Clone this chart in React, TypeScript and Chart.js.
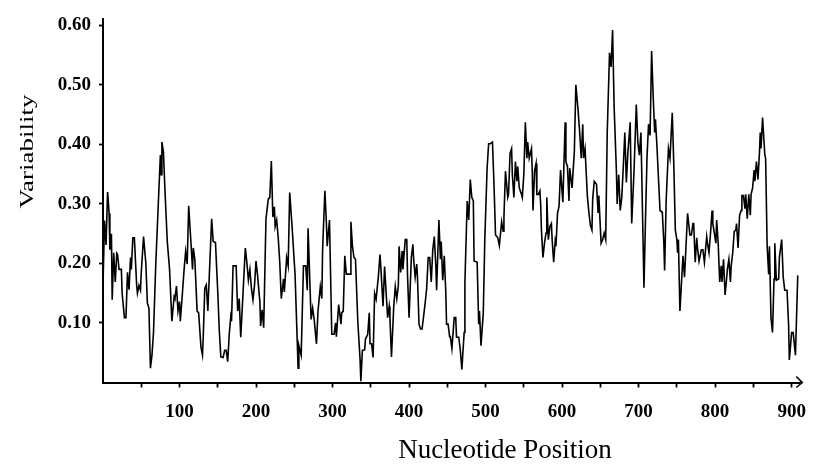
import React, { useEffect, useRef } from 'react';
import { Chart, registerables } from 'chart.js';

Chart.register(...registerables);

// Nucleotide positions (x) and variability values (y)
const positions = [
  0, 2, 4, 6, 8, 9, 11, 12, 14, 16, 18, 19, 21, 24, 25, 28, 30, 32, 34, 36, 37, 39, 41, 44, 45, 47, 49, 50, 53, 56,
  58, 60, 62, 64, 66, 69, 73, 75, 76, 77, 79, 81, 84, 87, 90, 93, 94, 96, 98, 100, 101, 103, 106, 108, 110, 112, 115, 117, 118, 120,
  123, 125, 128, 130, 131, 133, 135, 137, 139, 142, 144, 147, 150, 152, 154, 157, 159, 161, 163, 165, 167, 168, 170, 174, 176, 178, 180, 182, 186, 188,
  190, 192, 194, 196, 198, 200, 202, 205, 206, 208, 210, 213, 216, 218, 220, 222, 224, 225, 227, 229, 231, 233, 236, 237, 240, 242, 244, 247, 250, 251,
  255, 256, 259, 262, 265, 267, 268, 272, 274, 276, 279, 281, 284, 286, 287, 290, 292, 293, 296, 299, 302, 304, 305, 308, 311, 312, 314, 316, 318, 323,
  324, 326, 328, 330, 333, 336, 337, 339, 342, 343, 346, 348, 349, 351, 353, 355, 357, 360, 362, 363, 366, 368, 370, 372, 374, 375, 377, 380, 382, 384,
  386, 387, 389, 391, 392, 395, 397, 398, 400, 403, 405, 406, 408, 410, 411, 413, 415, 417, 419, 421, 423, 425, 427, 429, 431, 433, 435, 436, 439, 441,
  442, 444, 446, 448, 449, 451, 453, 454, 456, 459, 461, 462, 465, 467, 469, 472, 473, 476, 478, 480, 482, 484, 485, 489, 491, 492, 494, 497, 499, 502,
  504, 506, 509, 511, 513, 516, 518, 521, 523, 524, 526, 529, 530, 532, 534, 535, 537, 539, 541, 542, 544, 547, 548, 550, 552, 554, 555, 557, 560, 561,
  562, 564, 566, 567, 569, 571, 572, 573, 575, 577, 579, 580, 582, 584, 586, 587, 589, 591, 592, 594, 596, 598, 601, 604, 605, 607, 609, 610, 613, 616,
  618, 621, 623, 625, 627, 628, 630, 633, 635, 637, 639, 640, 642, 645, 647, 648, 651, 653, 655, 657, 659, 662, 664, 666, 668, 671, 672, 674, 676, 678,
  680, 682, 684, 686, 689, 691, 694, 697, 699, 701, 703, 704, 707, 709, 711, 713, 715, 717, 719, 721, 722, 724, 728, 731, 733, 734, 736, 739, 741, 744,
  746, 748, 750, 751, 752, 754, 758, 760, 764, 765, 767, 769, 771, 772, 774, 776, 777, 779, 782, 784, 786, 789, 790, 792, 794, 796, 797, 799, 801, 802,
  804, 806, 808, 809, 811, 813, 815, 816, 818, 820, 821, 823, 825, 827, 828, 830, 832, 834, 835, 837, 839, 840, 842, 844, 846, 847, 849, 851, 852, 854,
  856, 858, 859, 860, 862, 865, 866, 868, 870, 871, 873, 875, 877, 878, 880, 883, 884, 887, 889, 891, 894, 896, 897, 900, 902, 905, 908,
];

const variability = [
  0.164, 0.272, 0.231, 0.32, 0.284, 0.223, 0.25, 0.139, 0.218, 0.169, 0.217, 0.215, 0.19, 0.19, 0.15, 0.109, 0.109, 0.185, 0.156, 0.21, 0.19, 0.243, 0.243, 0.163, 0.15, 0.163, 0.155, 0.185, 0.245, 0.2,
  0.133, 0.125, 0.024, 0.046, 0.084, 0.2, 0.322, 0.382, 0.349, 0.404, 0.387, 0.322, 0.237, 0.19, 0.103, 0.144, 0.141, 0.162, 0.12, 0.136, 0.103, 0.136, 0.19, 0.22, 0.199, 0.297, 0.234, 0.19, 0.226, 0.207,
  0.12, 0.117, 0.06, 0.046, 0.076, 0.158, 0.164, 0.12, 0.182, 0.275, 0.237, 0.235, 0.152, 0.087, 0.043, 0.042, 0.054, 0.054, 0.035, 0.081, 0.111, 0.103, 0.196, 0.196, 0.12, 0.141, 0.076, 0.125, 0.226, 0.202,
  0.172, 0.19, 0.158, 0.139, 0.163, 0.204, 0.18, 0.136, 0.095, 0.122, 0.092, 0.275, 0.308, 0.311, 0.372, 0.278, 0.295, 0.262, 0.273, 0.243, 0.202, 0.141, 0.174, 0.152, 0.21, 0.196, 0.319, 0.264, 0.202, 0.182,
  0.024, 0.062, 0.046, 0.196, 0.196, 0.155, 0.259, 0.106, 0.125, 0.106, 0.065, 0.12, 0.161, 0.141, 0.223, 0.322, 0.267, 0.229, 0.273, 0.081, 0.081, 0.1, 0.077, 0.131, 0.098, 0.117, 0.12, 0.213, 0.182, 0.182,
  0.27, 0.229, 0.21, 0.207, 0.103, 0.038, 0.002, 0.054, 0.055, 0.073, 0.081, 0.117, 0.065, 0.065, 0.042, 0.15, 0.14, 0.18, 0.215, 0.196, 0.128, 0.195, 0.152, 0.109, 0.128, 0.109, 0.043, 0.128, 0.161, 0.141,
  0.163, 0.229, 0.185, 0.221, 0.19, 0.24, 0.24, 0.18, 0.109, 0.21, 0.232, 0.207, 0.177, 0.199, 0.177, 0.098, 0.09, 0.09, 0.111, 0.133, 0.158, 0.21, 0.21, 0.169, 0.223, 0.245, 0.196, 0.155, 0.273, 0.207,
  0.237, 0.172, 0.213, 0.152, 0.098, 0.098, 0.077, 0.077, 0.057, 0.109, 0.109, 0.076, 0.076, 0.054, 0.022, 0.084, 0.169, 0.305, 0.273, 0.341, 0.311, 0.305, 0.204, 0.202, 0.098, 0.12, 0.062, 0.117, 0.24, 0.36,
  0.401, 0.401, 0.404, 0.333, 0.248, 0.243, 0.23, 0.27, 0.254, 0.278, 0.355, 0.311, 0.316, 0.385, 0.393, 0.349, 0.311, 0.371, 0.338, 0.363, 0.327, 0.316, 0.311, 0.349, 0.437, 0.377, 0.404, 0.377, 0.393, 0.355,
  0.289, 0.355, 0.368, 0.316, 0.316, 0.322, 0.3, 0.256, 0.21, 0.234, 0.251, 0.311, 0.24, 0.262, 0.267, 0.24, 0.202, 0.237, 0.229, 0.284, 0.296, 0.357, 0.303, 0.437, 0.371, 0.363, 0.305, 0.36, 0.327, 0.387,
  0.5, 0.456, 0.42, 0.377, 0.434, 0.377, 0.393, 0.314, 0.286, 0.264, 0.256, 0.308, 0.338, 0.333, 0.286, 0.314, 0.234, 0.24, 0.251, 0.24, 0.42, 0.554, 0.53, 0.592, 0.464, 0.355, 0.3, 0.349, 0.289, 0.311,
  0.363, 0.42, 0.336, 0.387, 0.437, 0.267, 0.355, 0.467, 0.404, 0.382, 0.42, 0.36, 0.159, 0.273, 0.379, 0.434, 0.415, 0.557, 0.483, 0.42, 0.442, 0.396, 0.289, 0.286, 0.234, 0.188, 0.305, 0.393, 0.377, 0.453,
  0.366, 0.256, 0.24, 0.218, 0.24, 0.12, 0.213, 0.177, 0.284, 0.273, 0.248, 0.248, 0.267, 0.267, 0.202, 0.243, 0.226, 0.204, 0.223, 0.223, 0.202, 0.245, 0.234, 0.218, 0.251, 0.289, 0.267, 0.251, 0.234, 0.273,
  0.234, 0.169, 0.196, 0.169, 0.207, 0.147, 0.174, 0.19, 0.207, 0.169, 0.196, 0.218, 0.254, 0.256, 0.267, 0.226, 0.281, 0.289, 0.314, 0.314, 0.292, 0.316, 0.275, 0.316, 0.281, 0.316, 0.327, 0.357, 0.338, 0.371,
  0.341, 0.387, 0.42, 0.393, 0.445, 0.382, 0.377, 0.229, 0.182, 0.229, 0.109, 0.084, 0.174, 0.234, 0.172, 0.174, 0.21, 0.24, 0.177, 0.155, 0.155, 0.098, 0.038, 0.084, 0.084, 0.046, 0.18,
];

const xTickValues = [50, 100, 150, 200, 250, 300, 350, 400, 450, 500, 550, 600, 650, 700, 750, 800, 850, 900];
const xTickLabels = ['100', '200', '300', '400', '500', '600', '700', '800', '900'];
const yTickValues = [0.1, 0.2, 0.3, 0.4, 0.5, 0.6];
const yTickLabels = ['0.10', '0.20', '0.30', '0.40', '0.50', '0.60'];
const xTitle = 'Nucleotide Position';
const yTitle = 'Variability';

const SERIF = '"Liberation Serif", "Times New Roman", serif';

const decorPlugin = {
  id: 'decor',
  afterDraw(chart: any) {
    const { ctx, chartArea } = chart;
    const { left, right, top, bottom } = chartArea;
    ctx.save();
    ctx.strokeStyle = '#000';
    ctx.fillStyle = '#000';
    // x-axis arrow head
    ctx.lineWidth = 1.6;
    ctx.beginPath();
    ctx.moveTo(right, bottom);
    ctx.lineTo(right + 3, bottom);
    ctx.stroke();
    ctx.beginPath();
    ctx.moveTo(right - 3, bottom - 6);
    ctx.lineTo(right + 3, bottom);
    ctx.lineTo(right - 3, bottom + 5);
    ctx.stroke();
    // x title
    ctx.font = '27px ' + SERIF;
    ctx.textAlign = 'center';
    ctx.textBaseline = 'alphabetic';
    ctx.fillText(xTitle, left + 402, bottom + 75.5);
    // y title (rotated, stretched along its direction)
    ctx.translate(left - 70, top + 132);
    ctx.rotate(-Math.PI / 2);
    ctx.scale(1.5, 1);
    ctx.font = '18px ' + SERIF;
    ctx.fillText(yTitle, 0, 0);
    ctx.restore();
  },
};

export default function App() {
  const ref = useRef<HTMLCanvasElement>(null);

  useEffect(() => {
    if (!ref.current) return;
    const data = positions.map((p, i) => ({ x: p, y: variability[i] }));
    const chart = new Chart(ref.current, {
      type: 'line',
      data: {
        datasets: [
          {
            data,
            borderColor: '#000',
            borderWidth: 1.6,
            pointRadius: 0,
            tension: 0,
            fill: false,
          },
        ],
      },
      options: {
        animation: false,
        responsive: false,
        maintainAspectRatio: false,
        layout: { padding: { top: 10, right: 11, left: 0, bottom: 0 } },
        plugins: { legend: { display: false }, tooltip: { enabled: false } },
        scales: {
          x: {
            type: 'linear',
            min: 0,
            max: 910,
            afterFit: (s: any) => {
              s.height = 81.5;
            },
            afterBuildTicks: (s: any) => {
              s.ticks = xTickValues.map((v) => ({ value: v }));
            },
            border: { display: true, color: '#000', width: 2 },
            grid: { display: true, drawOnChartArea: false, drawTicks: true, tickLength: 5, tickWidth: 1.8, tickColor: '#000' },
            ticks: {
              autoSkip: false,
              maxRotation: 0,
              padding: 13,
              color: '#000',
              font: { family: SERIF, size: 19, weight: 'bold' },
              callback: (v: any) => {
                const s = String(v);
                return xTickLabels.includes(s) ? s : '';
              },
            },
          },
          y: {
            type: 'linear',
            min: 0,
            max: 0.61,
            afterFit: (s: any) => {
              s.width = 103;
            },
            afterBuildTicks: (s: any) => {
              s.ticks = yTickValues.map((v) => ({ value: v }));
            },
            border: { display: true, color: '#000', width: 2 },
            grid: { display: true, drawOnChartArea: false, drawTicks: true, tickLength: 4, tickWidth: 1.8, tickColor: '#000' },
            ticks: {
              autoSkip: false,
              padding: 8,
              color: '#000',
              font: { family: SERIF, size: 19, weight: 'bold' },
              callback: (v: any) => {
                const i = yTickValues.findIndex((t) => Math.abs(t - v) < 1e-9);
                return i >= 0 ? yTickLabels[i] : '';
              },
            },
          },
        },
      },
      plugins: [decorPlugin],
    });
    return () => chart.destroy();
  }, []);

  return (
    <div style={{ position: 'fixed', left: 0, top: 0, width: 819, height: 464, background: '#fff' }}>
      <canvas ref={ref} width={819} height={464} style={{ display: 'block' }} />
    </div>
  );
}
